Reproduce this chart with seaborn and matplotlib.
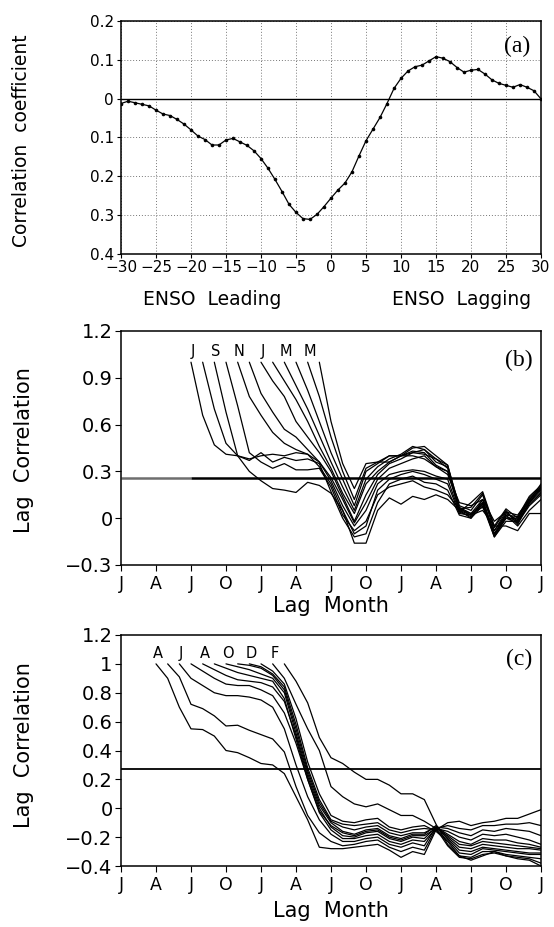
import matplotlib
matplotlib.use("Agg")
import matplotlib.pyplot as plt
import pandas as pd
import seaborn as sns

sns.set_style("ticks")
plt.rcParams["font.family"] = ["DejaVu Sans"]
plt.rcParams["axes.unicode_minus"] = True
for key in ("text.color", "axes.labelcolor", "xtick.color", "ytick.color", "axes.edgecolor"):
    plt.rcParams[key] = "black"

# ---------------- (a) lag correlation with ENSO ----------------
lag_a = list(range(-30, 31))
corr_a = [-0.013, -0.007, -0.011, -0.015, -0.019, -0.030, -0.040, -0.044, -0.054, -0.066,
          -0.081, -0.097, -0.106, -0.120, -0.120, -0.107, -0.103, -0.112, -0.121, -0.135,
          -0.155, -0.180, -0.209, -0.240, -0.273, -0.294, -0.310, -0.312, -0.299, -0.279,
          -0.257, -0.236, -0.218, -0.189, -0.148, -0.109, -0.079, -0.049, -0.013, 0.026,
          0.052, 0.071, 0.082, 0.086, 0.097, 0.108, 0.104, 0.095, 0.080, 0.068,
          0.073, 0.075, 0.063, 0.048, 0.039, 0.034, 0.029, 0.036, 0.029, 0.020,
          -0.001]
yticks_a = [0.2, 0.1, 0.0, -0.1, -0.2, -0.3, -0.4]
yticklabels_a = ["0.2", "0.1", "0", "0.1", "0.2", "0.3", "0.4"]
xticks_a = list(range(-30, 31, 5))

# ---------------- month axis shared by (b) and (c) ----------------
month_ticks = list(range(0, 37, 3))
month_labels = ["J", "A", "J", "O", "J", "A", "J", "O", "J", "A", "J", "O", "J"]

# ---------------- (b) lag correlation, start months Jul..Jun ----------------
starts_b = [6, 7, 8, 9, 10, 11, 12, 13, 14, 15, 16, 17]
curves_b = [
    [1.00, 0.66, 0.47, 0.41, 0.40, 0.38, 0.40, 0.41, 0.40, 0.42, 0.41, 0.33,
     0.22, 0.05, -0.10, -0.05, 0.18, 0.25, 0.28, 0.30, 0.28, 0.25, 0.22, 0.03, 0.02, 0.10, -0.10, 0.00, -0.03, 0.08, 0.15],
    [1.00, 0.70, 0.48, 0.40, 0.37, 0.42, 0.36, 0.39, 0.37, 0.38, 0.35,
     0.17, 0.00, -0.12, -0.10, 0.10, 0.22, 0.25, 0.27, 0.23, 0.22, 0.18, 0.02, 0.00, 0.08, -0.12, -0.02, -0.02, 0.10, 0.17],
    [1.00, 0.68, 0.40, 0.30, 0.24, 0.19, 0.18, 0.165, 0.23, 0.21,
     0.16, 0.05, -0.16, -0.16, 0.05, 0.13, 0.09, 0.14, 0.12, 0.15, 0.12, 0.05, 0.02, 0.05, -0.05, -0.05, -0.08, 0.03, 0.03],
    [1.00, 0.72, 0.42, 0.36, 0.32, 0.35, 0.31, 0.31, 0.32,
     0.20, 0.02, -0.08, -0.02, 0.15, 0.20, 0.22, 0.24, 0.20, 0.18, 0.15, 0.06, 0.03, 0.07, -0.08, 0.02, -0.05, 0.05, 0.12],
    [1.00, 0.78, 0.66, 0.55, 0.48, 0.44, 0.41, 0.36,
     0.24, 0.08, -0.05, 0.05, 0.22, 0.28, 0.30, 0.31, 0.30, 0.27, 0.25, 0.04, 0.01, 0.09, -0.11, 0.01, -0.02, 0.09, 0.16],
    [1.00, 0.80, 0.68, 0.57, 0.52, 0.44, 0.36,
     0.26, 0.12, -0.03, 0.10, 0.25, 0.32, 0.35, 0.38, 0.40, 0.33, 0.30, 0.05, 0.00, 0.12, -0.10, 0.03, -0.01, 0.12, 0.18],
    [1.00, 0.88, 0.78, 0.62, 0.52, 0.42,
     0.30, 0.14, -0.02, 0.15, 0.28, 0.35, 0.38, 0.42, 0.44, 0.38, 0.32, 0.06, 0.02, 0.10, -0.12, 0.00, 0.00, 0.13, 0.20],
    [1.00, 0.88, 0.76, 0.62, 0.46,
     0.32, 0.16, 0.03, 0.22, 0.30, 0.36, 0.40, 0.45, 0.46, 0.40, 0.34, 0.07, 0.03, 0.12, -0.11, 0.02, 0.01, 0.14, 0.21],
    [1.00, 0.85, 0.70, 0.53,
     0.36, 0.20, 0.05, 0.25, 0.33, 0.38, 0.41, 0.46, 0.44, 0.36, 0.33, 0.08, 0.05, 0.15, -0.08, 0.04, 0.02, 0.12, 0.20],
    [1.00, 0.82, 0.62,
     0.42, 0.25, 0.08, 0.30, 0.35, 0.40, 0.40, 0.43, 0.42, 0.34, 0.30, 0.06, 0.07, 0.16, -0.06, 0.05, -0.04, 0.10, 0.19],
    [1.00, 0.78,
     0.52, 0.30, 0.12, 0.32, 0.36, 0.36, 0.40, 0.42, 0.41, 0.38, 0.34, 0.04, 0.10, 0.17, -0.05, 0.06, 0.00, 0.11, 0.22],
    [1.00,
     0.62, 0.35, 0.19, 0.35, 0.36, 0.40, 0.40, 0.40, 0.38, 0.33, 0.28, 0.10, 0.08, 0.12, -0.02, 0.04, -0.02, 0.10, 0.20],
]
labels_b = {6: "J", 8: "S", 10: "N", 12: "J", 14: "M", 16: "M"}
sig_b = 0.26

# ---------------- (c) lag correlation, start months Apr..Mar ----------------
starts_c = [3, 4, 5, 6, 7, 8, 9, 10, 11, 12, 13, 14]
curves_c = [
    [1.00, 0.90, 0.70, 0.55, 0.545, 0.50, 0.40, 0.385, 0.35, 0.31, 0.30, 0.24, 0.08, -0.08, -0.27,
     -0.28, -0.28, -0.27, -0.26, -0.25, -0.29, -0.34, -0.30, -0.32, -0.15, -0.10, -0.09, -0.12, -0.10, -0.09, -0.07, -0.07, -0.04, -0.01],
    [1.00, 0.91, 0.72, 0.69, 0.64, 0.57, 0.575, 0.54, 0.51, 0.48, 0.39, 0.15, -0.05, -0.17,
     -0.23, -0.26, -0.25, -0.23, -0.22, -0.27, -0.30, -0.27, -0.29, -0.14, -0.12, -0.14, -0.15, -0.12, -0.12, -0.11, -0.11, -0.10, -0.12],
    [1.00, 0.90, 0.85, 0.80, 0.78, 0.78, 0.77, 0.75, 0.70, 0.55, 0.30, 0.08, -0.08,
     -0.18, -0.23, -0.23, -0.21, -0.20, -0.25, -0.27, -0.24, -0.26, -0.13, -0.14, -0.17, -0.19, -0.15, -0.16, -0.14, -0.15, -0.16, -0.19],
    [1.00, 0.95, 0.90, 0.86, 0.85, 0.85, 0.82, 0.78, 0.66, 0.45, 0.20, -0.03,
     -0.15, -0.21, -0.21, -0.19, -0.18, -0.23, -0.25, -0.22, -0.23, -0.14, -0.16, -0.20, -0.22, -0.18, -0.19, -0.18, -0.20, -0.22, -0.25],
    [1.00, 0.96, 0.92, 0.89, 0.88, 0.87, 0.84, 0.74, 0.50, 0.22, 0.00,
     -0.13, -0.19, -0.20, -0.17, -0.16, -0.21, -0.23, -0.20, -0.21, -0.13, -0.18, -0.23, -0.25, -0.21, -0.22, -0.22, -0.24, -0.25, -0.27],
    [1.00, 0.97, 0.94, 0.92, 0.90, 0.88, 0.76, 0.48, 0.20, -0.02,
     -0.12, -0.17, -0.19, -0.16, -0.15, -0.20, -0.22, -0.19, -0.19, -0.14, -0.19, -0.25, -0.26, -0.23, -0.24, -0.25, -0.26, -0.27, -0.28],
    [1.00, 0.98, 0.96, 0.93, 0.90, 0.80, 0.52, 0.24, 0.02,
     -0.10, -0.16, -0.18, -0.15, -0.14, -0.19, -0.21, -0.18, -0.18, -0.12, -0.20, -0.27, -0.28, -0.25, -0.26, -0.27, -0.28, -0.28, -0.29],
    [1.00, 0.99, 0.97, 0.92, 0.82, 0.55, 0.26, 0.04,
     -0.09, -0.13, -0.15, -0.13, -0.12, -0.17, -0.19, -0.17, -0.17, -0.13, -0.21, -0.29, -0.30, -0.27, -0.28, -0.29, -0.30, -0.31, -0.31],
    [1.00, 0.98, 0.93, 0.84, 0.58, 0.28, 0.06,
     -0.08, -0.11, -0.12, -0.11, -0.10, -0.15, -0.17, -0.15, -0.14, -0.15, -0.22, -0.31, -0.32, -0.28, -0.29, -0.30, -0.31, -0.32, -0.32],
    [1.00, 0.95, 0.86, 0.62, 0.32, 0.10,
     -0.05, -0.09, -0.10, -0.08, -0.07, -0.13, -0.15, -0.13, -0.12, -0.16, -0.23, -0.33, -0.34, -0.30, -0.30, -0.32, -0.33, -0.34, -0.35],
    [1.00, 0.90, 0.72, 0.55, 0.40,
     0.15, 0.08, 0.03, 0.01, 0.03, -0.01, -0.05, -0.05, -0.09, -0.14, -0.26, -0.34, -0.35, -0.32, -0.31, -0.33, -0.34, -0.35, -0.38],
    [1.00, 0.88, 0.73, 0.49,
     0.35, 0.31, 0.25, 0.20, 0.20, 0.16, 0.10, 0.10, 0.06, -0.11, -0.25, -0.33, -0.36, -0.33, -0.30, -0.33, -0.35, -0.36, -0.40],
]
labels_c = {3: "A", 5: "J", 7: "A", 9: "O", 11: "D", 13: "F"}
sig_c = 0.27


def to_long(starts, curves):
    rows = []
    for s, vals in zip(starts, curves):
        for k, v in enumerate(vals):
            rows.append({"start": s, "month": s + k, "corr": v})
    return pd.DataFrame(rows)


df_b = to_long(starts_b, curves_b)
df_c = to_long(starts_c, curves_c)

W, H = 554, 927
fig = plt.figure(figsize=(W / 100, H / 100), dpi=100)


def axes_px(left, top, right, bottom):
    return fig.add_axes([left / W, 1 - bottom / H, (right - left) / W, (bottom - top) / H])


ax_a = axes_px(121, 21, 541, 253.5)
ax_b = axes_px(121, 331, 541, 565)
ax_c = axes_px(121, 635, 541, 866)

serif = ["Liberation Serif", "DejaVu Serif"]

# ---- panel (a)
df_a = pd.DataFrame({"lag": lag_a, "corr": corr_a})
sns.lineplot(data=df_a, x="lag", y="corr", ax=ax_a, color="black", lw=0.9,
             marker="o", markersize=2.6, markeredgewidth=0, markerfacecolor="black")
ax_a.axhline(0, color="black", lw=1.0, zorder=1)
ax_a.set_xlim(-30, 30)
ax_a.set_ylim(-0.4, 0.2)
ax_a.set_xticks(xticks_a)
ax_a.set_xticklabels([str(t).replace("-", "\u2212") for t in xticks_a])
ax_a.set_yticks(yticks_a)
ax_a.set_yticklabels(yticklabels_a)
ax_a.grid(True, ls=(0, (1, 2)), color="#777777", lw=0.7)
ax_a.tick_params(labelsize=11, length=3, width=0.8, pad=2)
ax_a.set_xlabel("")
ax_a.set_ylabel("")
for sp in ax_a.spines.values():
    sp.set_linewidth(1.1)
ax_a.text(0.943, 0.89, "(a)", transform=ax_a.transAxes, ha="center", va="center",
          fontsize=17, family=serif)
fig.text(22 / W, 1 - 141 / H, "Correlation  coefficient", rotation=90, ha="center",
         va="center", fontsize=13.5)
fig.text(212 / W, 1 - 300 / H, "ENSO  Leading", ha="center", va="center", fontsize=13.5)
fig.text(462 / W, 1 - 300 / H, "ENSO  Lagging", ha="center", va="center", fontsize=13.5)


def month_panel(ax, df, labels, sig, ylim, yticks, yticklabels, tag, tag_y, sig_lw, gray_end):
    sns.lineplot(data=df, x="month", y="corr", units="start", estimator=None, ax=ax,
                 color="black", lw=0.9)
    if gray_end:
        ax.hlines(sig, 0, gray_end, color="#6e6e6e", lw=sig_lw, zorder=1)
        ax.hlines(sig, gray_end, 36, color="black", lw=sig_lw, zorder=1)
    else:
        ax.hlines(sig, 0, 36, color="black", lw=sig_lw, zorder=1)
    for s, lab in labels.items():
        ax.text(s + 0.15, 1.07, lab, ha="center", va="center", fontsize=10.5)
    ax.set_xlim(0, 36)
    ax.set_ylim(*ylim)
    ax.set_xticks(month_ticks)
    ax.set_xticklabels(month_labels)
    ax.set_yticks(yticks)
    ax.set_yticklabels(yticklabels)
    ax.tick_params(axis="y", labelsize=14, length=4, width=0.8, pad=2)
    ax.tick_params(axis="x", labelsize=12.5, length=4, width=0.8, pad=3)
    ax.set_xlabel("")
    ax.set_ylabel("")
    for sp in ax.spines.values():
        sp.set_linewidth(1.1)
    ax.text(0.948, tag_y, tag, transform=ax.transAxes, ha="center", va="center",
            fontsize=17, family=serif)


month_panel(ax_b, df_b, labels_b, sig_b, (-0.3, 1.2),
            [-0.3, 0, 0.3, 0.6, 0.9, 1.2], ["\u22120.3", "0", "0.3", "0.6", "0.9", "1.2"],
            "(b)", 0.876, 1.8, 6)
month_panel(ax_c, df_c, labels_c, sig_c, (-0.4, 1.2),
            [-0.4, -0.2, 0, 0.2, 0.4, 0.6, 0.8, 1.0, 1.2],
            ["\u22120.4", "\u22120.2", "0", "0.2", "0.4", "0.6", "0.8", "1", "1.2"],
            "(c)", 0.892, 1.3, None)

for ycen, xcen in [(450, 606), (745, 911)]:
    fig.text(24 / W, 1 - ycen / H, "Lag  Correlation", rotation=90, ha="center",
             va="center", fontsize=15)
    fig.text(331 / W, 1 - xcen / H, "Lag  Month", ha="center", va="center", fontsize=15)

fig.savefig("out.png", dpi=100)
